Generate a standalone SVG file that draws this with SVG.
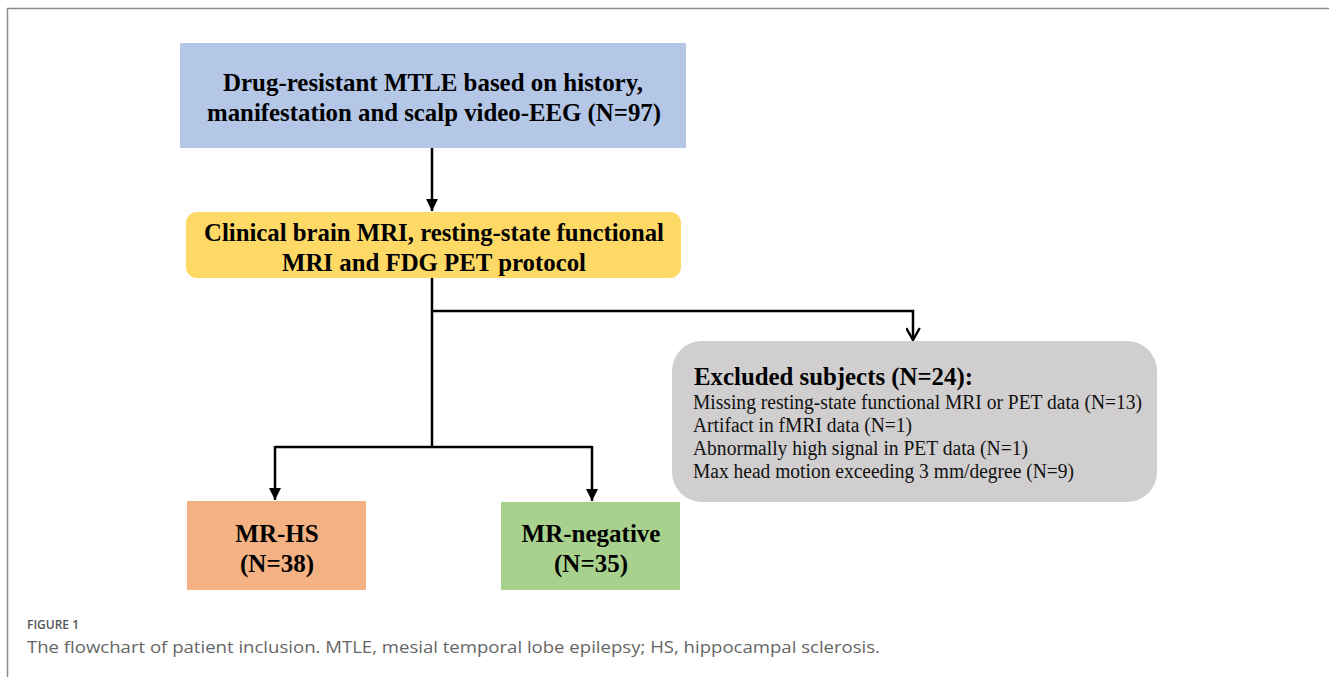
<svg xmlns="http://www.w3.org/2000/svg" width="1329" height="677" viewBox="0 0 1329 677">
<style>
.frame{fill:none;stroke:#8a8a8a;stroke-width:1.5}
.conn{fill:none;stroke:#000;stroke-width:2.5}
.tb{font-family:"Liberation Serif","Times New Roman",serif;font-weight:bold;font-size:25px;fill:#000}
.tr{font-family:"Liberation Serif","Times New Roman",serif;font-size:20px;fill:#111}
.cap1{font-family:"Open Sans","Lato",sans-serif;font-size:13px;font-weight:600;fill:#555}
.cap2{font-family:"Open Sans","Lato",sans-serif;font-size:16.5px;fill:#666}
</style>
<defs>
<marker id="tri" viewBox="0 0 10 10" refX="10" refY="5" markerWidth="5" markerHeight="5" markerUnits="strokeWidth" orient="auto">
<path d="M0,0 L10,5 L0,10 z" fill="#000"/>
</marker>
<marker id="vee" viewBox="0 0 10 10" refX="9" refY="5" markerWidth="6" markerHeight="6" markerUnits="strokeWidth" orient="auto">
<path d="M1,0.5 L9,5 L1,9.5" fill="none" stroke="#000" stroke-width="1.6"/>
</marker>
</defs>
<rect width="1329" height="677" fill="#fff"/>
<path class="frame" d="M7.5,677 V8.5 H1329"/>

<g id="connectors">
<path class="conn" d="M432,148 V211" marker-end="url(#tri)"/>
<path class="conn" d="M432,278 V447"/>
<path class="conn" d="M432,311 H913 V340" marker-end="url(#vee)"/>
<path class="conn" d="M275,447 H592"/>
<path class="conn" d="M275,446 V500" marker-end="url(#tri)"/>
<path class="conn" d="M592,446 V501" marker-end="url(#tri)"/>
</g>

<g id="node-mtle">
<rect x="180" y="43" width="506" height="105" fill="#b4c7e7"/>
<text class="tb" x="433" y="91" text-anchor="middle" textLength="420" lengthAdjust="spacingAndGlyphs">Drug-resistant MTLE based on history,</text>
<text class="tb" x="434" y="121" text-anchor="middle" textLength="454" lengthAdjust="spacingAndGlyphs">manifestation and scalp video-EEG (N=97)</text>
</g>

<g id="node-protocol">
<rect x="186" y="212" width="495" height="66" rx="11" fill="#ffd966"/>
<text class="tb" x="434" y="241" text-anchor="middle" textLength="460" lengthAdjust="spacingAndGlyphs">Clinical brain MRI, resting-state functional</text>
<text class="tb" x="434" y="271" text-anchor="middle" textLength="304" lengthAdjust="spacingAndGlyphs">MRI and FDG PET protocol</text>
</g>

<g id="node-excluded">
<rect x="672" y="341" width="485" height="161" rx="30" fill="#d0cece"/>
<text class="tb" x="694" y="385" font-size="23" textLength="279" lengthAdjust="spacingAndGlyphs">Excluded subjects (N=24):</text>
<text class="tr" x="693" y="409" textLength="449" lengthAdjust="spacingAndGlyphs">Missing resting-state functional MRI or PET data (N=13)</text>
<text class="tr" x="693" y="432" textLength="219" lengthAdjust="spacingAndGlyphs">Artifact in fMRI data (N=1)</text>
<text class="tr" x="693" y="455" textLength="335" lengthAdjust="spacingAndGlyphs">Abnormally high signal in PET data (N=1)</text>
<text class="tr" x="693" y="478" textLength="381" lengthAdjust="spacingAndGlyphs">Max head motion exceeding 3 mm/degree (N=9)</text>
</g>

<g id="node-mrhs">
<rect x="187" y="501" width="179" height="89" fill="#f4b183"/>
<text class="tb" x="277" y="542" text-anchor="middle">MR-HS</text>
<text class="tb" x="277" y="572" text-anchor="middle">(N=38)</text>
</g>

<g id="node-mrneg">
<rect x="501" y="502" width="179" height="88" fill="#a9d18e"/>
<text class="tb" x="591" y="542" text-anchor="middle">MR-negative</text>
<text class="tb" x="591" y="572" text-anchor="middle">(N=35)</text>
</g>

<g id="caption">
<text class="cap1" x="27" y="629" textLength="52" lengthAdjust="spacingAndGlyphs">FIGURE 1</text>
<text class="cap2" x="27" y="653" textLength="853" lengthAdjust="spacingAndGlyphs">The flowchart of patient inclusion. MTLE, mesial temporal lobe epilepsy; HS, hippocampal sclerosis.</text>
</g>
</svg>
